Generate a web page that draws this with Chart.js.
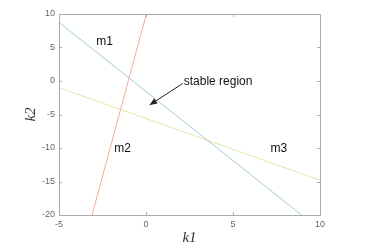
<!DOCTYPE html>
<html>
<head>
<meta charset="utf-8">
<script src="https://cdn.jsdelivr.net/npm/chart.js@4"></script>
<style>
  html, body { margin: 0; padding: 0; background: #fff; }
  #wrap { width: 379px; height: 252px; position: relative; }
</style>
</head>
<body>
<div id="wrap"><canvas id="chart"></canvas></div>
<script>
// các đường biên ổn định (điểm đầu / cuối)
const m1X = [-5, 8.94];
const m1Y = [8.75, -20];
const m2X = [-3.1, 0.02];
const m2Y = [-20, 10];
const m3X = [-5, 10];
const m3Y = [-1.0, -14.8];

const xTicks = [-5, 0, 5, 10];
const yTicks = [-20, -15, -10, -5, 0, 5, 10];

// nhãn chữ (toạ độ dữ liệu)
const labelText = ["m1", "m2", "m3", "stable region"];
const labelX = [-2.38, -1.34, 7.64, 2.17];
const labelY = [5.82, -10.15, -10.15, -0.15];
const arrowFrom = [2.11, -0.37];
const arrowTo = [0.21, -3.58];

const toPts = (xs, ys) => xs.map((x, i) => ({ x: x, y: ys[i] }));

function lineSet(xs, ys, color) {
    return {
        data: toPts(xs, ys),
        borderColor: color,
        borderWidth: 1,
        pointRadius: 0,
        showLine: true,
        fill: false,
    };
}

// vẽ khung, vạch chia hướng vào trong, nhãn, mũi tên
const decor = {
    id: "decor",
    afterDatasetsDraw(chart) {
        const ctx = chart.ctx;
        const a = chart.chartArea;
        const sx = chart.scales.x, sy = chart.scales.y;
        ctx.save();
        ctx.strokeStyle = "#ababab";
        ctx.lineWidth = 1;
        ctx.strokeRect(a.left + 0.5, a.top + 0.5, a.right - a.left, a.bottom - a.top);
        ctx.beginPath();
        xTicks.forEach(v => {
            const px = Math.round(sx.getPixelForValue(v)) + 0.5;
            ctx.moveTo(px, a.bottom); ctx.lineTo(px, a.bottom - 3);
            ctx.moveTo(px, a.top); ctx.lineTo(px, a.top + 3);
        });
        yTicks.forEach(v => {
            const py = Math.round(sy.getPixelForValue(v)) + 0.5;
            ctx.moveTo(a.left, py); ctx.lineTo(a.left + 3, py);
            ctx.moveTo(a.right, py); ctx.lineTo(a.right - 3, py);
        });
        ctx.stroke();

        // nhãn m1, m2, m3, stable region
        ctx.fillStyle = "#111";
        ctx.font = "12px 'Liberation Sans', Arial, sans-serif";
        ctx.textBaseline = "middle";
        labelText.forEach((t, i) => {
            ctx.textAlign = i < 3 ? "center" : "left";
            ctx.fillText(t, sx.getPixelForValue(labelX[i]), sy.getPixelForValue(labelY[i]));
        });

        // mũi tên
        const x0 = sx.getPixelForValue(arrowFrom[0]), y0 = sy.getPixelForValue(arrowFrom[1]);
        const x1 = sx.getPixelForValue(arrowTo[0]), y1 = sy.getPixelForValue(arrowTo[1]);
        const ang = Math.atan2(y1 - y0, x1 - x0);
        ctx.strokeStyle = "#222";
        ctx.beginPath();
        ctx.moveTo(x0, y0); ctx.lineTo(x1, y1);
        ctx.stroke();
        ctx.fillStyle = "#222";
        ctx.beginPath();
        ctx.moveTo(x1, y1);
        ctx.lineTo(x1 - 8 * Math.cos(ang - 0.4), y1 - 8 * Math.sin(ang - 0.4));
        ctx.lineTo(x1 - 8 * Math.cos(ang + 0.4), y1 - 8 * Math.sin(ang + 0.4));
        ctx.closePath();
        ctx.fill();

        // tiêu đề trục k1, k2
        ctx.fillStyle = "#333";
        ctx.font = "italic 15px 'Liberation Serif', 'Times New Roman', serif";
        ctx.textAlign = "center";
        ctx.fillText("k1", (a.left + a.right) / 2, 238);
        ctx.translate(31, (a.top + a.bottom) / 2);
        ctx.rotate(-Math.PI / 2);
        ctx.fillText("k2", 0, 0);
        ctx.restore();
    }
};

const tickFont = { family: "'Liberation Sans', Arial, sans-serif", size: 9 };

new Chart(document.getElementById("chart"), {
    type: "scatter",
    data: {
        datasets: [
            lineSet(m1X, m1Y, "#a3cadc"),
            lineSet(m2X, m2Y, "#ebb199"),
            lineSet(m3X, m3Y, "#e8e4ab"),
        ],
    },
    options: {
        responsive: true,
        maintainAspectRatio: false,
        animation: false,
        layout: { padding: { left: 0, top: 14, right: 59, bottom: 0 } },
        plugins: {
            legend: { display: false },
            tooltip: { enabled: false },
        },
        scales: {
            x: {
                type: "linear",
                min: -5,
                max: 10,
                afterBuildTicks: s => { s.ticks = xTicks.map(v => ({ value: v })); },
                ticks: { color: "#666", font: tickFont, padding: 4 },
                grid: { display: false, drawTicks: false },
                border: { display: false },
                afterFit: s => { s.height = 37; },
            },
            y: {
                type: "linear",
                min: -20,
                max: 10,
                afterBuildTicks: s => { s.ticks = yTicks.map(v => ({ value: v })); },
                ticks: { color: "#666", font: tickFont, padding: 4 },
                grid: { display: false, drawTicks: false },
                border: { display: false },
                afterFit: s => { s.width = 59; },
            },
        },
    },
    plugins: [decor],
});
</script>
</body>
</html>
